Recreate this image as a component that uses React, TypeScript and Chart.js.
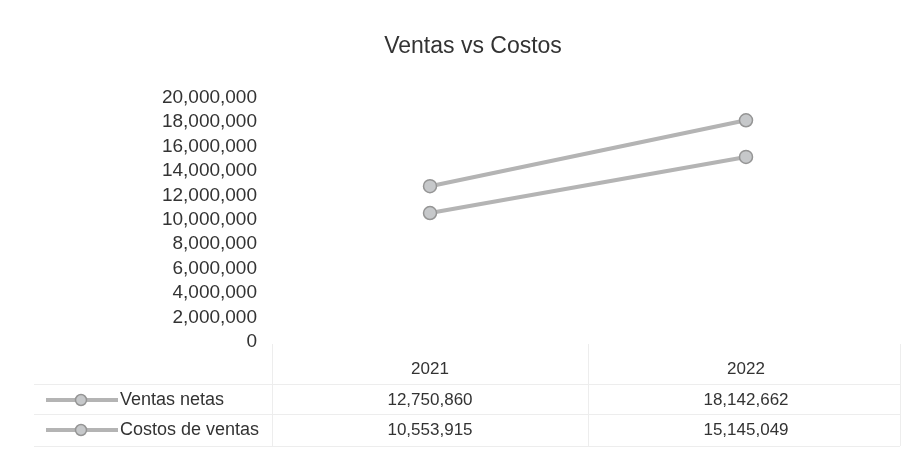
import React, { useEffect, useRef } from "react";
import { Chart, registerables } from "chart.js";

Chart.register(...registerables);

const title = "Ventas vs Costos";
const categories = ["2021", "2022"];
const seriesNames = ["Ventas netas", "Costos de ventas"];
const ventasNetas = [12750860, 18142662];
const costosVentas = [10553915, 15145049];
const yMin = 0;
const yMax = 20000000;
const yStep = 2000000;

const FONT = '"Liberation Sans", Arial, sans-serif';
const LINE = "#b4b4b4";
const MARK_FILL = "#c6c8ca";
const MARK_BORDER = "#959595";
const TEXT = "#333333";

const fmt = (v: number) => v.toLocaleString("en-US");

const tablePlugin = {
  id: "dataTable",
  afterDraw(chart: any) {
    const { ctx, chartArea } = chart;
    const xs = chart.scales.x;
    const bottom = chartArea.bottom;
    const rows = [ventasNetas, costosVentas];
    ctx.save();
    ctx.strokeStyle = "#ededed";
    ctx.lineWidth = 1;
    const xb = [chartArea.left, (xs.getPixelForValue(0) + xs.getPixelForValue(1)) / 2, chartArea.right - 4];
    xb.forEach((x) => {
      ctx.beginPath();
      ctx.moveTo(Math.round(x) + 0.5, bottom + 2);
      ctx.lineTo(Math.round(x) + 0.5, bottom + 104);
      ctx.stroke();
    });
    [bottom + 42, bottom + 72, bottom + 104].forEach((y) => {
      ctx.beginPath();
      ctx.moveTo(34, Math.round(y) + 0.5);
      ctx.lineTo(chartArea.right - 4, Math.round(y) + 0.5);
      ctx.stroke();
    });
    ctx.font = `18px ${FONT}`;
    ctx.textBaseline = "middle";
    rows.forEach((vals, r) => {
      const y = bottom + 58 + r * 30;
      ctx.strokeStyle = LINE;
      ctx.lineWidth = 4;
      ctx.beginPath();
      ctx.moveTo(46, y);
      ctx.lineTo(118, y);
      ctx.stroke();
      ctx.beginPath();
      ctx.arc(81, y, 5.5, 0, Math.PI * 2);
      ctx.fillStyle = MARK_FILL;
      ctx.fill();
      ctx.lineWidth = 1.5;
      ctx.strokeStyle = MARK_BORDER;
      ctx.stroke();
      ctx.fillStyle = TEXT;
      ctx.textAlign = "left";
      ctx.fillText(seriesNames[r], 120, y);
      ctx.font = `17px ${FONT}`;
      ctx.textAlign = "center";
      vals.forEach((v, i) => {
        ctx.fillText(fmt(v), xs.getPixelForValue(i), y);
      });
      ctx.font = `18px ${FONT}`;
    });
    ctx.restore();
  },
};

export default function App() {
  const ref = useRef<HTMLCanvasElement>(null);
  useEffect(() => {
    document.body.style.margin = "0";
    if (!ref.current) return;
    const ds = (label: string, data: number[]) => ({
      label,
      data,
      borderColor: LINE,
      borderWidth: 4,
      pointRadius: 6.5,
      pointBackgroundColor: MARK_FILL,
      pointBorderColor: MARK_BORDER,
      pointBorderWidth: 1.5,
    });
    const chart = new Chart(ref.current, {
      type: "line",
      data: {
        labels: categories,
        datasets: [ds(seriesNames[0], ventasNetas), ds(seriesNames[1], costosVentas)],
      },
      options: {
        responsive: false,
        animation: false,
        layout: { padding: { left: 42, right: 18, top: 0, bottom: 0 } },
        plugins: {
          legend: { display: false },
          tooltip: { enabled: false },
          title: {
            display: true,
            text: title,
            color: TEXT,
            font: { family: FONT, size: 23, weight: "normal" },
            padding: { top: 33, bottom: 37 },
          },
        },
        scales: {
          x: {
            offset: true,
            grid: { display: false },
            border: { display: false },
            ticks: { color: TEXT, font: { family: FONT, size: 17 }, padding: 9 },
            afterFit: (s: any) => {
              s.height = 114;
            },
          },
          y: {
            min: yMin,
            max: yMax,
            grid: { display: false },
            border: { display: false },
            ticks: {
              stepSize: yStep,
              autoSkip: false,
              color: TEXT,
              padding: 7,
              font: { family: FONT, size: 19 },
              callback: (v: any) => fmt(Number(v)),
            },
            afterFit: (s: any) => {
              s.width = 230;
            },
          },
        },
      },
      plugins: [tablePlugin],
    });
    return () => chart.destroy();
  }, []);
  return (
    <div style={{ width: 922, height: 456, background: "#fff" }}>
      <canvas ref={ref} width={922} height={456} />
    </div>
  );
}
